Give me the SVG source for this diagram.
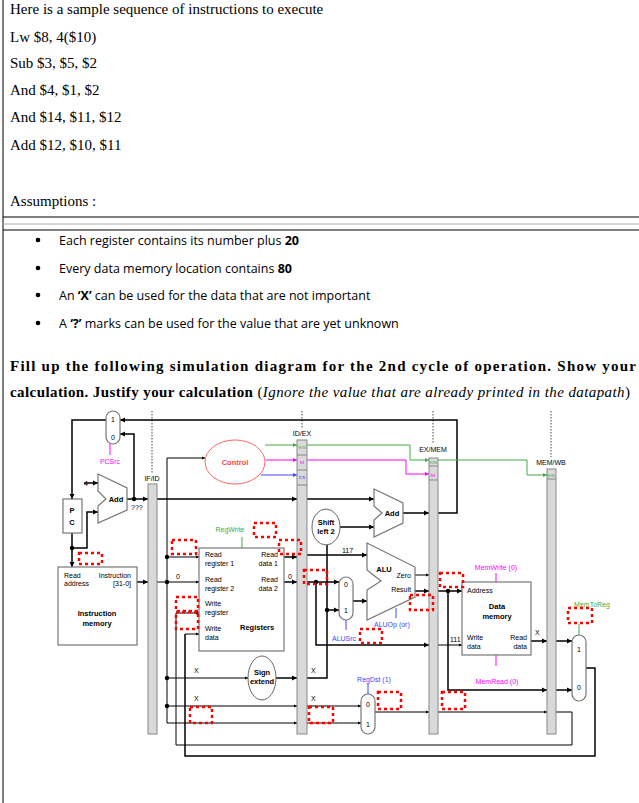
<svg xmlns="http://www.w3.org/2000/svg" width="639" height="803" viewBox="0 0 639 803">
<style>
.t{font-family:"Liberation Serif",serif;font-size:15px;fill:#000}
.b{font-family:"Open Sans","Liberation Sans",sans-serif;font-size:12.5px;fill:#000}
.s{font-family:"Liberation Sans",Arial,sans-serif;font-size:7px;fill:#000}
.sb{font-family:"Liberation Sans",Arial,sans-serif;font-size:7.5px;font-weight:bold;fill:#000}
.w{stroke:#000;stroke-width:1.5;fill:none}
.wt{stroke:#000;stroke-width:1;fill:none}
.box{fill:#fff;stroke:#777;stroke-width:1.2}
.reg{fill:#d9d9d9;stroke:#888;stroke-width:1}
.red{fill:none;stroke:#f00;stroke-width:2.5;stroke-dasharray:3 3}
.dot{stroke:#444;stroke-width:1;stroke-dasharray:1.5 1.5}
</style>
<defs>
<marker id="a" viewBox="0 0 6 6" refX="6" refY="3" markerWidth="3.5" markerHeight="3.5" orient="auto"><path d="M0,0L6,3L0,6z" fill="#000"/></marker>
<marker id="ag" viewBox="0 0 6 6" refX="6" refY="3" markerWidth="4" markerHeight="4" orient="auto"><path d="M0,0L6,3L0,6z" fill="#4a4"/></marker>
<marker id="am" viewBox="0 0 6 6" refX="6" refY="3" markerWidth="4" markerHeight="4" orient="auto"><path d="M0,0L6,3L0,6z" fill="#f0f"/></marker>
<marker id="ab" viewBox="0 0 6 6" refX="6" refY="3" markerWidth="4" markerHeight="4" orient="auto"><path d="M0,0L6,3L0,6z" fill="#44f"/></marker>
</defs>
<rect width="639" height="803" fill="#fff"/>
<g id="text">
<line x1="3" y1="0" x2="3" y2="803" stroke="#000"/>
<line x1="3" y1="217" x2="639" y2="217" stroke="#000" stroke-width="1.2"/>
<line x1="3" y1="224" x2="639" y2="224" stroke="#aaa"/>
<line x1="3" y1="230" x2="639" y2="230" stroke="#000"/>
<text class="t" x="10" y="14">Here is a sample sequence of instructions to execute</text>
<text class="t" x="10" y="42">Lw $8, 4($10)</text>
<text class="t" x="10" y="68">Sub $3, $5, $2</text>
<text class="t" x="10" y="95">And $4, $1, $2</text>
<text class="t" x="10" y="122">And $14, $11, $12</text>
<text class="t" x="10" y="150">Add $12, $10, $11</text>
<text class="t" x="10" y="206">Assumptions :</text>
<g class="b">
<circle cx="38" cy="240" r="2.3"/><text x="59" y="245">Each register contains its number plus <tspan font-weight="bold">20</tspan></text>
<circle cx="38" cy="268" r="2.3"/><text x="59" y="273">Every data memory location contains <tspan font-weight="bold">80</tspan></text>
<circle cx="38" cy="295" r="2.3"/><text x="59" y="300">An <tspan font-weight="bold">‘X’</tspan> can be used for the data that are not important</text>
<circle cx="38" cy="323" r="2.3"/><text x="59" y="328">A <tspan font-weight="bold">‘?’</tspan> marks can be used for the value that are yet unknown</text>
</g>
<text class="t" x="10" y="371" font-size="16" font-weight="bold" textLength="626" lengthAdjust="spacing">Fill up the following simulation diagram for the 2nd cycle of operation. Show your</text>
<text class="t" x="10" y="397" font-size="16" font-weight="bold" textLength="620" lengthAdjust="spacing">calculation. Justify your calculation <tspan font-weight="normal">(</tspan><tspan font-weight="normal" font-style="italic">Ignore the value that are already printed in the datapath</tspan><tspan font-weight="normal">)</tspan></text>
</g>
<g id="connectors">
<line class="dot" x1="152" y1="411" x2="152" y2="474"/>
<line class="dot" x1="302" y1="411" x2="302" y2="428"/>
<line class="dot" x1="433" y1="411" x2="433" y2="443"/>
<line class="dot" x1="551" y1="411" x2="551" y2="457"/>
<path class="w" d="M438,513H457V420H120" marker-end="url(#a)"/>
<path class="w" d="M106,420H72V499" marker-end="url(#a)"/>
<path class="w" d="M134,499V434H120" marker-end="url(#a)"/>
<circle cx="134" cy="499" r="2.2"/>
<path class="w" d="M72,533V567" marker-end="url(#a)"/>
<circle cx="72" cy="548" r="2.2"/>
<path class="w" d="M72,548H87V512H98" marker-end="url(#a)"/>
<path class="w" d="M84,483H98" marker-end="url(#a)"/>
<path class="w" d="M127,499H148" marker-end="url(#a)"/>
<path class="w" d="M157,499H297" marker-end="url(#a)"/>
<path class="w" d="M307,499H374" marker-end="url(#a)"/>
<path class="w" d="M137,582H148" marker-end="url(#a)"/>
<path class="wt" d="M157,582H167V458H205" marker-end="url(#a)"/>
<path class="wt" d="M167,557H199" marker-end="url(#a)"/>
<path class="wt" d="M167,582H199" marker-end="url(#a)"/>
<circle cx="167" cy="557" r="2.2"/><circle cx="167" cy="582" r="2.2"/>
<path class="wt" d="M167,582V723H297" marker-end="url(#a)"/>
<path class="wt" d="M167,678H248" marker-end="url(#a)"/>
<path class="wt" d="M167,706H297" marker-end="url(#a)"/>
<circle cx="167" cy="678" r="2.2"/><circle cx="167" cy="706" r="2.2"/>
<path class="w" d="M276,678H297" marker-end="url(#a)"/>
<path class="wt" d="M176,613H199" marker-end="url(#a)"/>
<path class="wt" d="M185,634H199" marker-end="url(#a)"/>
<path class="w" d="M257,557H297" marker-end="url(#a)"/>
<path class="w" d="M257,582H297" marker-end="url(#a)"/>
<path stroke="#4a4" fill="none" d="M265,445H297" marker-end="url(#ag)"/>
<path stroke="#f0f" fill="none" d="M266,460H297" marker-end="url(#am)"/>
<path stroke="#44f" fill="none" d="M261,475H297" marker-end="url(#ab)"/>
<path stroke="#4a4" fill="none" d="M307,445H410V460H429" marker-end="url(#ag)"/>
<path stroke="#f0f" fill="none" d="M307,460H406V474H429" marker-end="url(#am)"/>
<path stroke="#4a4" fill="none" d="M438,460H527V475H547" marker-end="url(#ag)"/>
<path class="w" d="M340,527H374" marker-end="url(#a)"/>
<path class="w" d="M403,513H429" marker-end="url(#a)"/>
<path class="w" d="M307,555H367" marker-end="url(#a)"/>
<path class="w" d="M307,582H339" marker-end="url(#a)"/>
<circle cx="316" cy="582" r="2.2"/>
<path class="w" d="M316,582V645H429" marker-end="url(#a)"/>
<path class="w" d="M307,678H327V545"/>
<path class="w" d="M327,610H339" marker-end="url(#a)"/>
<circle cx="327" cy="610" r="2.2"/>
<path class="w" d="M353,601H367" marker-end="url(#a)"/>
<path class="wt" d="M415,575H429" marker-end="url(#a)"/>
<path class="w" d="M410,591H429" marker-end="url(#a)"/>
<path class="w" d="M438,591H462" marker-end="url(#a)"/>
<circle cx="448" cy="591" r="2.2"/>
<path class="w" d="M448,591V690H547" marker-end="url(#a)"/>
<path class="wt" d="M438,645H462" marker-end="url(#a)"/>
<path class="w" d="M531,641H547" marker-end="url(#a)"/>
<path class="w" d="M556,641H572" marker-end="url(#a)"/>
<path class="w" d="M556,690H572" marker-end="url(#a)"/>
<path class="wt" d="M307,706H361" marker-end="url(#a)"/>
<path class="wt" d="M307,723H361" marker-end="url(#a)"/>
<path class="wt" d="M375,712H429" marker-end="url(#a)"/>
<path class="wt" d="M438,712H547" marker-end="url(#a)"/>
<path class="wt" d="M556,712H572V745H176V613"/>
<path class="w" d="M586,668H595V756H185V634"/>
<line stroke="#f0f" x1="110" y1="444" x2="110" y2="455"/>
<line stroke="#4a4" x1="242" y1="537" x2="242" y2="548"/>
<line stroke="#44f" x1="396" y1="608" x2="396" y2="618"/>
<line stroke="#44f" x1="346" y1="620" x2="346" y2="630"/>
<line stroke="#44f" x1="368" y1="684" x2="368" y2="695"/>
<line stroke="#f0f" x1="496" y1="573" x2="496" y2="582"/>
<line stroke="#f0f" x1="496" y1="655" x2="496" y2="666"/>
<line stroke="#4a4" x1="579" y1="624" x2="579" y2="635"/>
</g>
<g id="pcmux"><rect class="box" x="106" y="411" width="14" height="33" rx="7"/><text class="s" x="113" y="422" text-anchor="middle">1</text><text class="s" x="113" y="440" text-anchor="middle">0</text><text x="110" y="464" font-family="Liberation Sans,sans-serif" font-size="7" fill="#f0f" text-anchor="middle">PCSrc</text></g>
<g id="pc"><rect class="box" x="63" y="499" width="19" height="34"/><text class="sb" x="72" y="513" text-anchor="middle">P</text><text class="sb" x="72" y="525" text-anchor="middle">C</text></g>
<g id="add1"><path class="box" d="M98,474L127,488V510L98,523V506L106,499L98,491Z"/><text class="sb" x="116" y="502" text-anchor="middle">Add</text><text class="s" x="84" y="486">4</text><text class="s" x="131" y="510">???</text></g>
<g id="imem"><rect class="box" x="58" y="567" width="79" height="78"/><text class="s" x="64" y="578">Read</text><text class="s" x="64" y="586">address</text><text class="s" x="131" y="578" text-anchor="end">Instruction</text><text class="s" x="131" y="586" text-anchor="end">[31-0]</text><text class="sb" x="97" y="616" text-anchor="middle">Instruction</text><text class="sb" x="97" y="626" text-anchor="middle">memory</text></g>
<g id="ifid"><rect class="reg" x="148" y="484" width="9" height="250"/><text class="s" x="152" y="481" text-anchor="middle">IF/ID</text></g>
<g id="idex"><rect class="reg" x="297" y="440" width="10" height="294"/><line x1="297" y1="455" x2="307" y2="455" stroke="#888"/><line x1="297" y1="470" x2="307" y2="470" stroke="#888"/><line x1="297" y1="485" x2="307" y2="485" stroke="#888"/><text x="302" y="449" font-size="5" fill="#4a4" text-anchor="middle" font-family="Liberation Serif,serif">WB</text><text x="302" y="464" font-size="5" fill="#f0f" text-anchor="middle" font-family="Liberation Serif,serif">M</text><text x="302" y="479" font-size="5" fill="#44f" text-anchor="middle" font-family="Liberation Serif,serif">EX</text><text class="s" x="302" y="436" text-anchor="middle">ID/EX</text></g>
<g id="exmem"><rect class="reg" x="429" y="458" width="9" height="276"/><line x1="429" y1="466" x2="438" y2="466" stroke="#888"/><line x1="429" y1="480" x2="438" y2="480" stroke="#888"/><text x="433" y="464" font-size="5" fill="#4a4" text-anchor="middle" font-family="Liberation Serif,serif">WB</text><text x="433" y="477" font-size="5" fill="#f0f" text-anchor="middle" font-family="Liberation Serif,serif">M</text><text class="s" x="433" y="452" text-anchor="middle">EX/MEM</text></g>
<g id="memwb"><rect class="reg" x="547" y="469" width="9" height="265"/><line x1="547" y1="479" x2="556" y2="479" stroke="#888"/><text x="551" y="477" font-size="5" fill="#4a4" text-anchor="middle" font-family="Liberation Serif,serif">WB</text><text class="s" x="551" y="465" text-anchor="middle">MEM/WB</text></g>
<g id="control"><ellipse cx="235" cy="462" rx="30" ry="22" fill="#fff" stroke="#f66"/><text x="235" y="465" font-family="Liberation Sans,sans-serif" font-size="7.5" font-weight="bold" fill="#f44" text-anchor="middle">Control</text></g>
<g id="regs"><rect class="box" x="199" y="548" width="85" height="103"/><g class="s"><text x="205" y="557">Read</text><text x="205" y="566">register 1</text><text x="205" y="582">Read</text><text x="205" y="591">register 2</text><text x="205" y="606">Write</text><text x="205" y="615">register</text><text x="205" y="631">Write</text><text x="205" y="640">data</text><text x="278" y="557" text-anchor="end">Read</text><text x="278" y="566" text-anchor="end">data 1</text><text x="278" y="582" text-anchor="end">Read</text><text x="278" y="591" text-anchor="end">data 2</text><text x="288" y="579">0</text><text x="176" y="579">0</text></g><text class="sb" x="240" y="630">Registers</text><text x="230" y="532" font-family="Liberation Sans,sans-serif" font-size="7" fill="#4a4" text-anchor="middle">RegWrite</text></g>
<g id="signext"><ellipse cx="262" cy="678" rx="14" ry="22" fill="#fff" stroke="#666"/><text class="sb" x="262" y="675" text-anchor="middle">Sign</text><text class="sb" x="262" y="684" text-anchor="middle">extend</text><g class="s"><text x="194" y="673">X</text><text x="194" y="701">X</text><text x="311" y="673">X</text><text x="311" y="701">X</text></g></g>
<g id="shift"><ellipse cx="326" cy="527" rx="14" ry="18" fill="#fff" stroke="#666"/><text class="sb" x="326" y="525" text-anchor="middle">Shift</text><text class="sb" x="326" y="534" text-anchor="middle">left 2</text></g>
<g id="add2"><path class="box" d="M374,489L403,503V523L374,537V520L382,513L374,506Z"/><text class="sb" x="392" y="516" text-anchor="middle">Add</text></g>
<g id="alu"><path class="box" d="M367,543L415,567V597L367,620V590L381,581L367,570Z"/><text class="sb" x="384" y="572" text-anchor="middle">ALU</text><text class="s" x="411" y="578" text-anchor="end">Zero</text><text class="s" x="411" y="592" text-anchor="end">Result</text><text class="s" x="342" y="553">117</text><text x="374" y="627" font-family="Liberation Sans,sans-serif" font-size="7" fill="#44f">ALUOp (or)</text></g>
<g id="alusrc"><rect class="box" x="339" y="577" width="14" height="43" rx="7"/><text class="s" x="346" y="587" text-anchor="middle">0</text><text class="s" x="346" y="613" text-anchor="middle">1</text><text x="332" y="641" font-family="Liberation Sans,sans-serif" font-size="7" fill="#44f">ALUSrc</text></g>
<g id="dmem"><rect class="box" x="462" y="582" width="69" height="73"/><g class="s"><text x="467" y="593">Address</text><text x="467" y="640">Write</text><text x="467" y="649">data</text><text x="527" y="640" text-anchor="end">Read</text><text x="527" y="649" text-anchor="end">data</text><text x="450" y="642">111</text><text x="535" y="635">X</text></g><text class="sb" x="497" y="609" text-anchor="middle">Data</text><text class="sb" x="497" y="619" text-anchor="middle">memory</text><text x="496" y="570" font-family="Liberation Sans,sans-serif" font-size="7" fill="#f0f" text-anchor="middle">MemWrite (0)</text><text x="497" y="684" font-family="Liberation Sans,sans-serif" font-size="7" fill="#f0f" text-anchor="middle">MemRead (0)</text></g>
<g id="memtoreg"><rect class="box" x="572" y="635" width="14" height="66" rx="7"/><text class="s" x="579" y="652" text-anchor="middle">1</text><text class="s" x="579" y="690" text-anchor="middle">0</text><text x="592" y="607" font-family="Liberation Sans,sans-serif" font-size="7" fill="#4a4" text-anchor="middle">MemToReg</text></g>
<g id="regdst"><rect class="box" x="361" y="694" width="14" height="40" rx="7"/><text class="s" x="368" y="707" text-anchor="middle">0</text><text class="s" x="368" y="727" text-anchor="middle">1</text><text x="374" y="682" font-family="Liberation Sans,sans-serif" font-size="7" fill="#44f" text-anchor="middle">RegDst (1)</text></g>
<g id="blanks">
<rect class="red" x="79" y="553" width="23" height="11"/>
<rect class="red" x="172" y="540" width="24" height="14"/>
<rect class="red" x="254" y="523" width="22" height="14"/>
<rect class="red" x="279" y="540" width="22" height="14"/>
<rect class="red" x="304" y="570" width="23" height="14"/>
<rect class="red" x="176" y="597" width="22" height="14"/>
<rect class="red" x="176" y="612" width="22" height="17"/>
<rect class="red" x="440" y="573" width="23" height="14"/>
<rect class="red" x="410" y="595" width="23" height="15"/>
<rect class="red" x="360" y="629" width="22" height="14"/>
<rect class="red" x="568" y="608" width="24" height="15"/>
<rect class="red" x="378" y="692" width="23" height="17"/>
<rect class="red" x="190" y="707" width="22" height="16"/>
<rect class="red" x="309" y="707" width="24" height="16"/>
<rect class="red" x="442" y="692" width="23" height="17"/>
</g>
</svg>
